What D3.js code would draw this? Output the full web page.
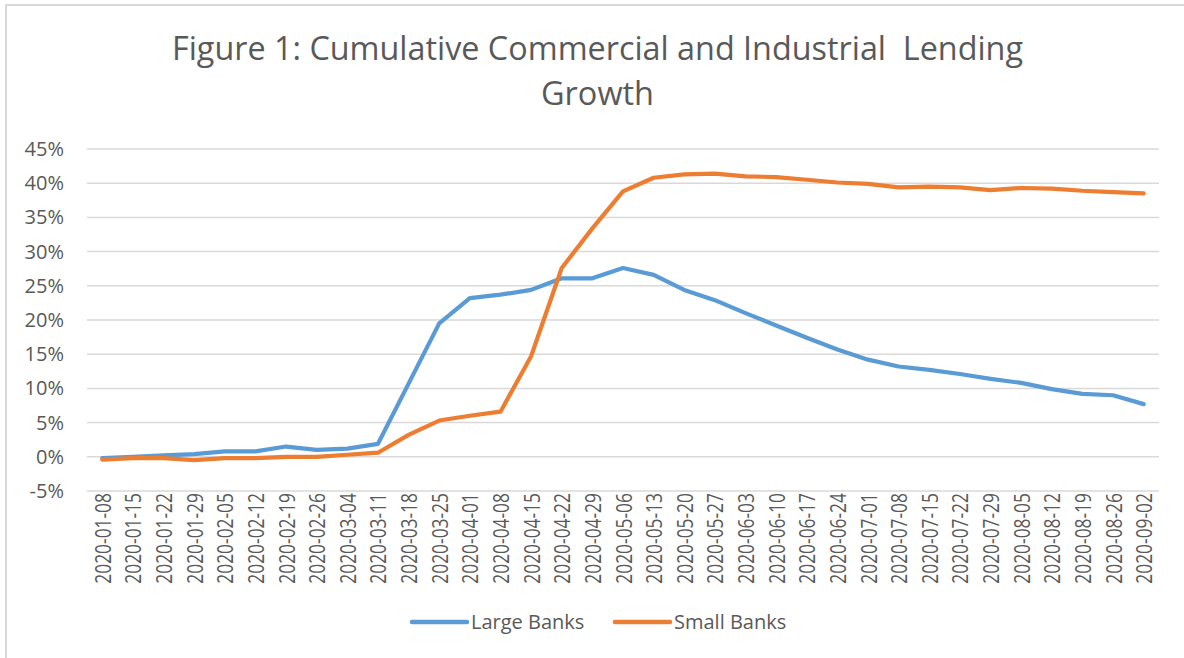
<!DOCTYPE html>
<html>
<head>
<meta charset="utf-8">
<script src="https://cdn.jsdelivr.net/npm/d3@7"></script>
<style>
  html, body { margin: 0; padding: 0; background: #fff; }
  svg { display: block; }
  text { font-family: "Open Sans", Lato, sans-serif; fill: #595959; }
</style>
</head>
<body>
<svg id="chart" width="1184" height="658"></svg>
<script>
const dates = ["2020-01-08","2020-01-15","2020-01-22","2020-01-29","2020-02-05","2020-02-12","2020-02-19","2020-02-26","2020-03-04","2020-03-11","2020-03-18","2020-03-25","2020-04-01","2020-04-08","2020-04-15","2020-04-22","2020-04-29","2020-05-06","2020-05-13","2020-05-20","2020-05-27","2020-06-03","2020-06-10","2020-06-17","2020-06-24","2020-07-01","2020-07-08","2020-07-15","2020-07-22","2020-07-29","2020-08-05","2020-08-12","2020-08-19","2020-08-26","2020-09-02"];
const largeBanks = [-0.2,0.0,0.2,0.4,0.8,0.8,1.5,1.0,1.2,1.9,10.7,19.5,23.2,23.7,24.4,26.1,26.1,27.6,26.6,24.4,22.9,21.0,19.2,17.4,15.7,14.2,13.2,12.7,12.1,11.4,10.8,9.9,9.2,9.0,7.7];
const smallBanks = [-0.4,-0.2,-0.2,-0.5,-0.2,-0.2,0.0,0.0,0.3,0.6,3.2,5.3,6.0,6.6,14.7,27.6,33.4,38.8,40.8,41.3,41.4,41.0,40.9,40.5,40.1,39.9,39.4,39.5,39.4,39.0,39.3,39.2,38.9,38.7,38.5];
const yTicks = [-5,0,5,10,15,20,25,30,35,40,45];
const seriesNames = ["Large Banks","Small Banks"];
const colors = ["#5b9bd5","#ed7d31"];
const titleLines = ["Figure 1: Cumulative Commercial and Industrial  Lending","Growth"];

const svg = d3.select("#chart");

// chart frame
svg.append("rect").attr("x",6).attr("y",5).attr("width",1200).attr("height",700)
  .attr("fill","#fff").attr("stroke","#d9d9d9").attr("stroke-width",2);

const x = d3.scalePoint().domain(dates).range([87,1159]).padding(0.5);
const y = d3.scaleLinear().domain([-5,45]).range([491,149]);

// gridlines
svg.append("g").selectAll("line").data(yTicks).join("line")
  .attr("x1",87).attr("x2",1159)
  .attr("y1",d=>y(d)).attr("y2",d=>y(d))
  .attr("stroke","#d9d9d9").attr("stroke-width",1.5);

// y axis labels
const yAxis = d3.axisLeft(y).tickValues(yTicks).tickSize(0).tickPadding(0).tickFormat(d=>d+"%");
const gy = svg.append("g").attr("transform","translate(64,0)").call(yAxis);
gy.select(".domain").remove();
gy.selectAll("text").attr("font-size",20).style("font-family","'Open Sans', sans-serif").attr("fill","#595959");

// x axis labels
const xAxis = d3.axisBottom(x).tickSize(0).tickPadding(0);
const gx = svg.append("g").attr("transform","translate(0,491)").call(xAxis);
gx.select(".domain").remove();
gx.selectAll("text")
  .attr("font-size",17.4)
  .style("font-family","'Open Sans', sans-serif")
  .attr("fill","#595959")
  .attr("text-anchor","end")
  .attr("transform","rotate(-90) scale(1,1.28)")
  .attr("x",-2).attr("y",0).attr("dy","0.36em");

// lines
const line = d3.line().x((d,i)=>x(dates[i])).y(d=>y(d));
[largeBanks, smallBanks].forEach((s,k)=>{
  svg.append("path").datum(s).attr("d",line)
    .attr("fill","none").attr("stroke",colors[k]).attr("stroke-width",4.2)
    .attr("stroke-linejoin","round").attr("stroke-linecap","round");
});

// title
svg.append("g").selectAll("text").data(titleLines).join("text")
  .attr("x",597.5).attr("y",(d,i)=>60+i*45)
  .attr("text-anchor","middle").attr("font-size",32)
  .style("white-space","pre").attr("xml:space","preserve")
  .each(function(d,i){
    d3.select(this).text(d);
    const target = i===0 ? 851 : 113;
    d3.select(this).attr("textLength",target).attr("lengthAdjust", "spacingAndGlyphs");
  });

// legend
const legendX = [412, 615];
seriesNames.forEach((n,k)=>{
  svg.append("line").attr("x1",legendX[k]).attr("x2",legendX[k]+55)
    .attr("y1",622).attr("y2",622).attr("stroke",colors[k]).attr("stroke-width",4.5).attr("stroke-linecap","round");
  svg.append("text").attr("x",legendX[k]+59).attr("y",622).attr("dy","0.36em")
    .attr("font-size",20).text(n);
});
</script>
</body>
</html>
